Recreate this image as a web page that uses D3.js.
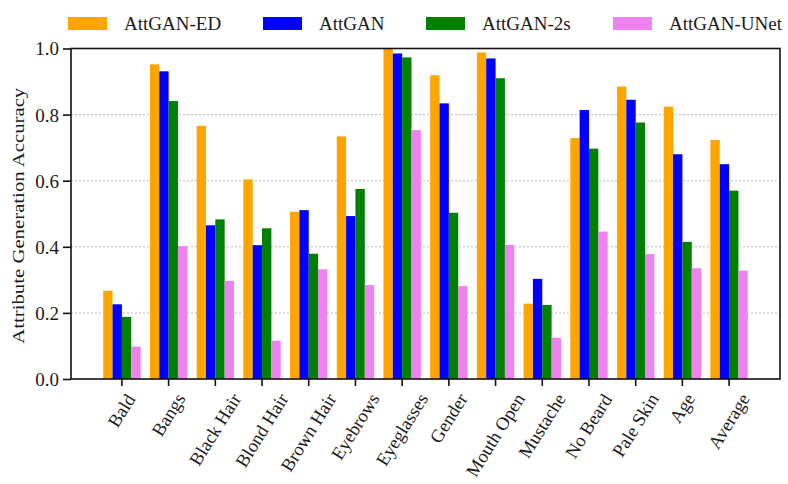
<!DOCTYPE html>
<html>
<head>
<meta charset="utf-8">
<script src="https://cdn.jsdelivr.net/npm/d3@7"></script>
<style>
  html, body { margin: 0; padding: 0; background: #ffffff; }
  svg text { font-family: "Liberation Serif", "Times New Roman", Times, serif; fill: #1a1a1a; }
</style>
</head>
<body>
<svg id="chart" width="788" height="484"></svg>
<script>
// Attribute generation accuracy per facial attribute, four model variants
const categories = ["Bald", "Bangs", "Black Hair", "Blond Hair", "Brown Hair", "Eyebrows", "Eyeglasses",
                    "Gender", "Mouth Open", "Mustache", "No Beard", "Pale Skin", "Age", "Average"];
const seriesNames = ["AttGAN-ED", "AttGAN", "AttGAN-2s", "AttGAN-UNet"];
const attganED   = [0.267, 0.952, 0.766, 0.604, 0.506, 0.734, 1.000, 0.919, 0.988, 0.228, 0.729, 0.885, 0.824, 0.723];
const attgan     = [0.226, 0.931, 0.465, 0.405, 0.511, 0.493, 0.985, 0.834, 0.970, 0.303, 0.814, 0.845, 0.680, 0.650];
const attgan2s   = [0.188, 0.841, 0.483, 0.456, 0.379, 0.575, 0.973, 0.503, 0.910, 0.224, 0.697, 0.776, 0.415, 0.570];
const attganUNet = [0.098, 0.402, 0.297, 0.116, 0.332, 0.284, 0.753, 0.281, 0.406, 0.125, 0.446, 0.378, 0.335, 0.328];
const yTicks = [0.0, 0.2, 0.4, 0.6, 0.8, 1.0];
const gridTicks = [0.2, 0.4, 0.6, 0.8];
const yTitle = "Attribute Generation Accuracy";

const seriesValues = [attganED, attgan, attgan2s, attganUNet];
const colors = ["#FFA500", "#0000FF", "#008000", "#EE82EE"];

const svg = d3.select("#chart");
const plot = { left: 71, right: 780, top: 48.5, bottom: 379 };

const x0 = d3.scaleBand()
  .domain(categories)
  .range([plot.left, plot.right])
  .paddingInner(0)
  .paddingOuter(0.59);

const groupWidth = x0.bandwidth() * 0.8;
const x1 = d3.scaleBand()
  .domain(seriesNames)
  .range([(x0.bandwidth() - groupWidth) / 2, (x0.bandwidth() + groupWidth) / 2]);

const y = d3.scaleLinear().domain([0, 1]).range([plot.bottom, plot.top]);

// dotted horizontal grid
svg.append("g")
  .selectAll("line")
  .data(gridTicks)
  .join("line")
  .attr("x1", plot.left).attr("x2", plot.right)
  .attr("y1", d => y(d)).attr("y2", d => y(d))
  .attr("stroke", "#bdbdbd")
  .attr("stroke-width", 1)
  .attr("stroke-dasharray", "2,2");

// bars
const rows = categories.map((c, i) => ({
  category: c,
  values: seriesNames.map((s, k) => ({ series: s, value: seriesValues[k][i], color: colors[k] }))
}));

svg.append("g")
  .selectAll("g")
  .data(rows)
  .join("g")
  .attr("transform", d => `translate(${x0(d.category)},0)`)
  .selectAll("rect")
  .data(d => d.values)
  .join("rect")
  .attr("x", d => x1(d.series))
  .attr("width", x1.bandwidth())
  .attr("y", d => y(d.value))
  .attr("height", d => y(0) - y(d.value))
  .attr("fill", d => d.color);

// frame
svg.append("rect")
  .attr("x", plot.left).attr("y", plot.top)
  .attr("width", plot.right - plot.left)
  .attr("height", plot.bottom - plot.top)
  .attr("fill", "none")
  .attr("stroke", "#111")
  .attr("stroke-width", 1.6);

// y axis
const yAxis = svg.append("g")
  .attr("transform", `translate(${plot.left},0)`)
  .call(d3.axisLeft(y).tickValues(yTicks).tickFormat(d3.format(".1f")).tickSize(8).tickPadding(4));
yAxis.select(".domain").remove();
yAxis.selectAll(".tick line").attr("stroke", "#111").attr("stroke-width", 1.6);
yAxis.selectAll(".tick text").style("font-size", "19px").attr("dy", "0.34em");

// x axis
const xAxis = svg.append("g")
  .attr("transform", `translate(0,${plot.bottom})`)
  .call(d3.axisBottom(x0).tickSize(7).tickPadding(0));
xAxis.select(".domain").remove();
xAxis.selectAll(".tick line").attr("stroke", "#111").attr("stroke-width", 1.6);

// rotated category labels: bounding box centred under each tick
const angle = -58;
const svgBox = svg.node().getBoundingClientRect();
xAxis.selectAll(".tick text")
  .style("font-size", "18.5px")
  .attr("x", 0).attr("y", 0).attr("dy", 0)
  .attr("text-anchor", "end")
  .attr("transform", `rotate(${angle})`)
  .each(function(d) {
    const r = this.getBoundingClientRect();
    const cx = x0(d) + x0.bandwidth() / 2;
    const midX = (r.left + r.right) / 2 - svgBox.left - cx;
    const top = r.top - svgBox.top - plot.bottom;
    d3.select(this).attr("transform", `translate(${-midX},${11 - top}) rotate(${angle})`);
  });

// y axis title
svg.append("text")
  .attr("transform", `translate(24,${(plot.top + plot.bottom) / 2 + 2}) rotate(-90)`)
  .attr("text-anchor", "middle")
  .attr("textLength", 256)
  .attr("lengthAdjust", "spacingAndGlyphs")
  .style("font-size", "17.5px")
  .text(yTitle);

// legend
const legendX = [68, 263, 426, 613];
const legend = svg.append("g")
  .selectAll("g")
  .data(seriesNames)
  .join("g")
  .attr("transform", (d, i) => `translate(${legendX[i]},17)`);
legend.append("rect")
  .attr("width", 39).attr("height", 13)
  .attr("fill", (d, i) => colors[i]);
legend.append("text")
  .attr("x", 56).attr("y", 13)
  .style("font-size", "19px")
  .text(d => d);
</script>
</body>
</html>
